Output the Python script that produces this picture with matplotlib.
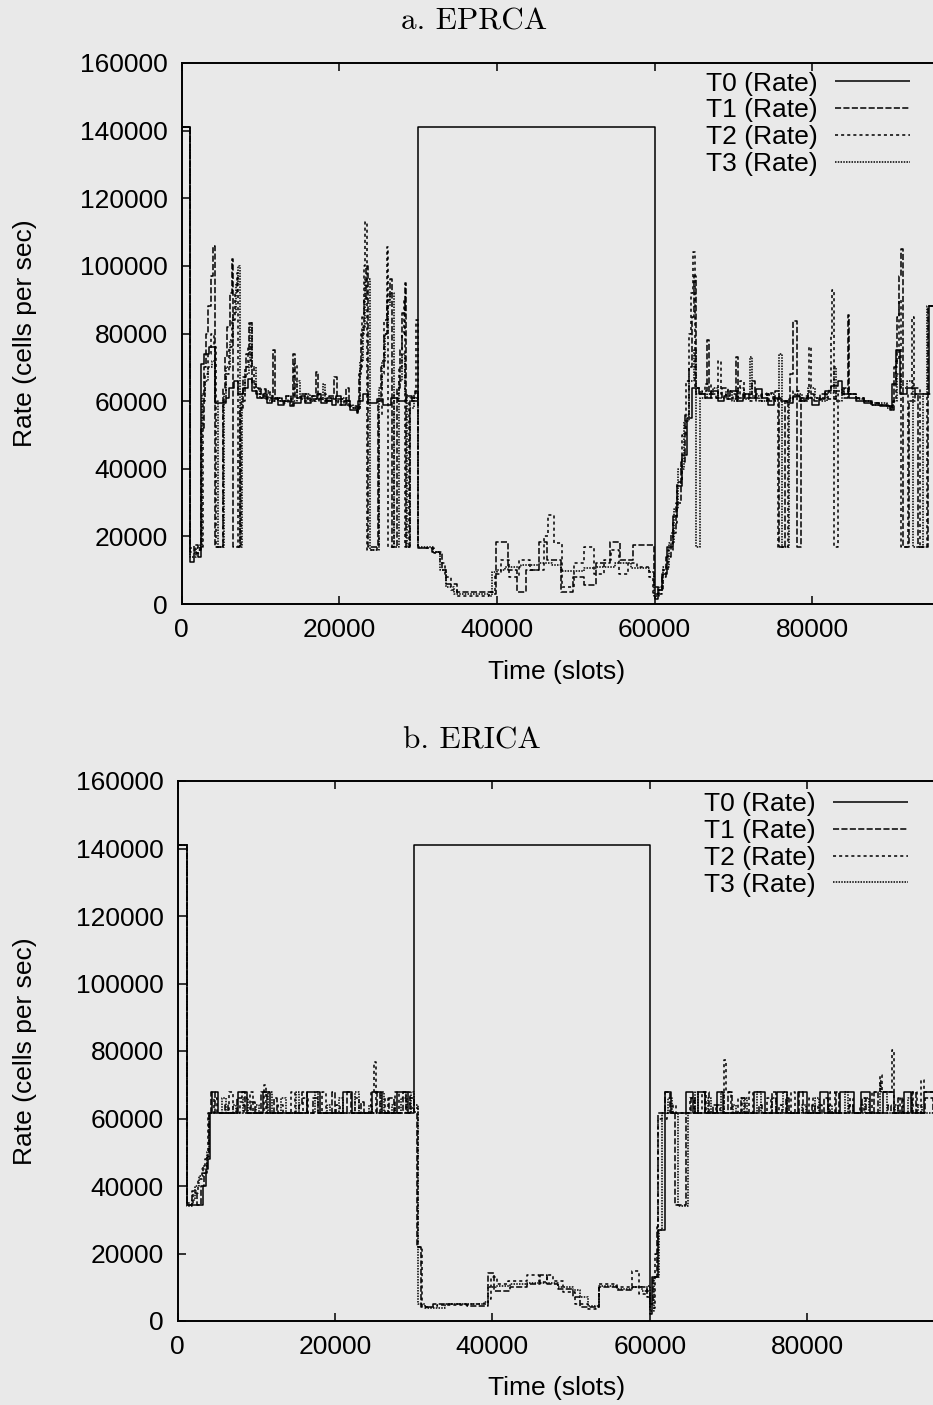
import matplotlib
matplotlib.use("Agg")
import matplotlib.pyplot as plt
from matplotlib.lines import Line2D

# ---------------- data: (time in slots, rate in cells/sec) step points ----------------
labels = ["T0 (Rate)", "T1 (Rate)", "T2 (Rate)", "T3 (Rate)"]
y_ticks = [0, 20000, 40000, 60000, 80000, 100000, 120000, 140000, 160000]
x_ticks = [0, 20000, 40000, 60000, 80000]

# a. EPRCA
eprca_t0 = [(0, 141000), (1100, 12500), (1600, 15000), (2100, 14000), (2450, 71000), (2900, 74000),
            (3500, 76000), (4250, 59500), (5600, 61000), (6000, 64000), (6600, 66000), (7200, 62000),
            (7800, 64000), (8400, 66500), (9000, 63000), (9600, 61000), (10300, 62000), (10900, 59500),
            (11500, 60500), (12300, 59000), (13000, 60000), (13700, 58500), (14300, 59500), (15100, 61500),
            (15600, 59500), (16400, 60500), (17200, 62000), (17700, 59500), (18400, 61000), (19100, 59000),
            (19600, 61500), (20200, 59000), (20900, 60000), (21400, 57500), (22200, 56500), (22400, 60000),
            (23000, 62000), (23700, 59500), (24800, 60500), (25500, 59000), (26600, 61000), (27400, 60000),
            (28500, 61500), (29200, 60000), (30000, 141000), (60000, 1500), (60400, 4000), (61000, 9000),
            (61600, 17000), (62300, 26000), (62900, 35000), (63500, 44000), (64100, 55000), (64700, 64000),
            (65600, 62000), (66400, 61000), (67200, 63000), (68000, 60000), (68800, 61500), (69600, 63000),
            (70400, 60000), (71200, 62000), (72000, 61000), (72800, 63500), (73600, 61000), (74400, 59000),
            (75200, 61000), (76000, 60000), (76800, 59500), (77600, 61500), (78400, 60000), (79200, 61000),
            (80000, 59000), (80800, 60500), (81600, 63000), (82400, 64500), (83200, 66000), (83800, 62000),
            (84600, 61000), (85600, 60000), (86600, 59500), (87600, 59000), (88600, 58500), (89800, 57500),
            (90100, 65000), (90600, 75000), (91100, 62000), (92000, 64000), (93000, 62000), (94500, 62000),
            (94800, 88000), (96000, 88000)]

eprca_t1 = [(0, 141000), (1100, 15500), (1600, 17500), (2100, 16000), (2500, 52000), (2800, 70000),
            (3100, 80000), (3400, 88000), (3700, 97000), (4000, 106000), (4200, 17000), (5200, 64000),
            (5500, 73000), (5800, 82000), (6100, 92000), (6400, 102000), (6550, 17000), (7450, 58000),
            (7800, 67000), (8200, 74000), (8600, 83000), (8900, 65000), (9500, 62000), (10100, 63500),
            (10700, 60500), (11300, 61000), (11600, 75000), (11800, 61000), (12500, 60000), (13200, 61500),
            (13900, 59000), (14100, 74000), (14400, 61000), (15200, 62000), (15900, 60500), (16600, 61500),
            (17000, 68500), (17300, 60500), (18000, 60000), (18700, 61500), (19400, 67000), (19700, 60500),
            (20600, 60000), (20900, 64000), (21200, 58500), (22200, 57500), (22500, 68000), (22800, 80000),
            (23100, 90000), (23400, 100000), (23700, 17000), (24900, 60000), (25300, 70000), (25700, 80000),
            (26100, 90000), (26400, 96000), (26750, 17000), (27300, 64000), (27700, 75000), (28000, 86000),
            (28300, 95000), (28500, 17000), (29000, 61000), (29600, 63000), (30000, 16500), (31800, 15500),
            (33000, 10000), (33600, 6000), (34900, 3500), (39500, 3000), (39900, 18400), (41400, 10000),
            (42500, 3500), (43700, 10000), (45400, 18400), (46300, 13000), (48100, 3500), (49600, 8000),
            (51100, 5600), (52600, 12000), (54300, 18400), (55600, 13000), (57200, 17500), (59400, 17500),
            (59900, 5000), (60400, 3000), (60900, 8000), (61500, 14000), (62100, 21000), (62700, 30000),
            (63300, 42000), (63800, 56000), (64300, 70000), (64700, 85000), (65000, 97000), (65200, 62000),
            (66000, 63000), (66600, 78000), (66900, 62000), (67800, 61000), (68500, 64000), (69300, 60500),
            (70300, 73000), (70600, 61000), (71500, 62000), (72300, 66000), (72700, 61000), (73600, 62000),
            (74500, 60000), (75300, 63000), (75800, 17000), (76500, 60000), (77200, 68000), (77600, 83600),
            (78000, 17000), (78600, 61000), (79500, 62000), (80200, 60000), (81000, 62000), (82000, 60500),
            (83000, 63000), (84000, 61000), (84500, 85500), (84700, 62000), (85500, 61000), (86500, 60000),
            (87500, 59500), (88500, 59000), (89500, 58500), (90100, 57500), (90400, 70000), (90700, 85000),
            (91000, 97000), (91300, 105000), (91500, 17000), (92300, 60000), (93000, 62000), (93400, 17000),
            (94300, 17000), (94700, 88000), (96000, 88000)]

eprca_t2 = [(0, 141000), (1100, 16500), (1700, 15000), (2300, 17000), (2700, 60000), (3000, 68000),
            (3300, 74000), (3700, 80000), (4100, 76000), (4400, 17000), (5300, 60000), (5600, 68000),
            (6000, 76000), (6400, 84000), (6800, 92000), (7000, 98000), (7150, 17000), (7600, 60000),
            (8000, 70000), (8400, 76000), (8800, 70000), (9200, 64000), (9800, 62000), (10400, 61000),
            (11000, 62500), (11500, 60000), (12200, 61000), (12800, 59500), (13500, 60500), (14300, 71000),
            (14700, 61000), (15300, 60000), (16000, 61500), (16800, 60000), (17500, 62000), (18300, 60000),
            (19000, 60500), (19800, 59000), (20600, 60000), (21400, 58000), (22300, 57000), (22600, 70000),
            (22900, 85000), (23100, 100000), (23300, 113000), (23550, 16000), (24300, 16000), (24800, 17000),
            (25100, 56000), (25400, 68000), (25700, 84000), (26000, 105600), (26200, 17000), (27000, 62000),
            (27600, 70000), (28000, 80000), (28200, 90000), (28400, 17000), (28900, 60000), (29500, 62000),
            (29800, 84000), (30000, 16500), (32000, 15000), (32800, 12000), (33400, 8000), (34200, 4000),
            (35000, 2500), (39000, 3500), (39700, 9000), (40500, 13000), (41500, 8000), (42800, 13000),
            (44200, 10000), (46000, 20000), (46500, 26300), (47300, 18000), (48300, 5000), (49800, 12000),
            (51000, 17000), (52300, 9000), (53600, 13000), (54500, 16000), (55500, 9000), (56600, 12000),
            (57800, 11000), (59300, 8000), (59800, 3000), (60600, 4000), (61100, 10000), (61700, 16000),
            (62300, 24000), (62900, 36000), (63500, 50000), (64000, 66000), (64300, 80000), (64600, 92000),
            (64850, 104000), (65100, 64000), (65800, 62000), (66400, 65000), (67200, 61000), (68100, 72000),
            (68400, 62000), (69000, 60500), (70000, 62000), (70800, 66000), (71300, 61000), (72100, 60000),
            (72900, 62000), (73500, 60000), (74300, 62500), (75000, 60500), (75700, 17000), (76600, 17000),
            (76900, 60000), (77500, 63000), (78300, 60000), (79000, 61500), (79600, 76000), (79800, 61000),
            (80800, 61000), (81600, 62500), (82100, 64000), (82400, 80000), (82550, 92800), (82750, 17000),
            (83300, 62000), (84000, 64000), (84700, 62000), (85600, 61000), (86600, 60000), (87600, 59500),
            (88600, 59000), (89600, 58500), (90200, 60000), (90600, 72000), (91000, 90000), (91300, 17000),
            (92200, 62000), (92700, 85000), (92900, 64000), (93700, 17000), (94500, 62000), (96000, 62000)]

eprca_t3 = [(0, 141000), (1100, 14000), (1800, 16500), (2400, 17500), (2600, 62000), (3000, 66000),
            (3400, 70000), (3900, 72000), (4300, 60000), (4600, 17000), (5400, 62000), (5700, 70000),
            (6100, 78000), (6500, 86000), (6900, 95000), (7200, 100000), (7400, 17000), (7700, 62000),
            (8100, 68000), (8500, 72000), (8700, 83000), (9000, 70000), (9400, 64000), (10000, 61000),
            (10600, 63000), (11200, 60000), (11900, 61000), (12500, 60000), (13200, 61500), (13900, 60000),
            (14600, 66000), (15000, 61000), (15600, 62000), (16300, 60000), (17000, 61000), (17900, 65000),
            (18200, 60000), (18900, 61000), (19600, 60000), (20300, 61000), (21000, 59000), (21800, 58000),
            (22300, 58000), (22700, 72000), (23000, 82000), (23300, 96000), (23900, 16000), (24700, 16000),
            (25000, 64000), (25400, 72000), (25800, 80000), (26200, 88000), (26500, 92000), (26900, 17000),
            (27600, 66000), (28000, 74000), (28300, 62000), (28600, 17000), (28950, 58000), (29500, 61000),
            (30000, 16800), (31900, 15500), (32800, 10000), (33500, 5000), (34600, 3000), (39000, 2500),
            (39400, 9500), (40000, 10000), (41000, 11000), (43000, 11500), (45400, 12000), (47000, 11500),
            (48100, 9800), (51000, 10500), (52600, 11000), (55000, 12000), (57000, 10500), (59300, 9500),
            (59900, 2500), (60500, 5000), (61100, 11000), (61800, 18000), (62400, 28000), (63000, 40000),
            (63700, 54000), (64300, 66000), (65000, 75000), (65300, 17000), (65700, 61000), (66600, 62000),
            (67400, 64000), (68000, 61000), (69000, 63000), (69800, 60000), (70600, 64000), (71400, 60500),
            (72100, 73000), (72400, 61500), (73300, 60000), (74200, 62000), (75200, 60000), (75800, 74000),
            (76200, 17000), (77000, 61000), (77800, 62000), (78700, 60000), (79500, 64000), (80300, 61000),
            (81100, 60000), (81900, 62500), (82700, 70000), (83000, 60000), (83800, 64000), (84500, 62000),
            (85500, 60500), (86500, 60000), (87500, 59000), (88500, 59500), (89500, 58000), (90200, 60000),
            (90700, 68000), (91300, 64000), (92000, 66000), (92800, 17000), (93600, 17000), (94000, 62000),
            (94600, 88000), (96000, 88000)]

# b. ERICA
erica_t0 = [(0, 141000), (1200, 34500), (2900, 34500), (3200, 40000), (3600, 45000), (3900, 48000),
            (4100, 61500), (4400, 68000), (5150, 61500), (7700, 68000), (8850, 61500), (10900, 68000),
            (11800, 61500), (16500, 68000), (18100, 61500), (21000, 68000), (22200, 61500), (24700, 68000),
            (26000, 61500), (27900, 68000), (29300, 61500), (30000, 141000), (60000, 2000), (60300, 13000),
            (61000, 27000), (61900, 68000), (62700, 61500), (64600, 68000), (65500, 61500), (66200, 68000),
            (67000, 61500), (68500, 68000), (69300, 61500), (73200, 68000), (74700, 61500), (76200, 68000),
            (77500, 61500), (78800, 68000), (80000, 61500), (81700, 68000), (82600, 61500), (84200, 68000),
            (85900, 61500), (86800, 68000), (88000, 61500), (89600, 68000), (91000, 61500), (92300, 68000),
            (93200, 61500), (94800, 68000), (96000, 68000)]

erica_t1 = [(0, 141000), (1200, 34500), (1800, 38500), (2500, 34500), (3000, 40000), (3400, 44000),
            (3800, 48500), (4000, 61500), (4200, 68000), (4800, 61500), (6000, 64000), (6400, 61500),
            (7600, 66000), (8200, 68000), (8600, 61500), (9400, 65000), (9800, 61500), (10600, 68000),
            (11400, 61500), (12200, 66000), (12600, 61500), (15400, 64000), (15800, 68000), (16400, 61500),
            (17200, 66000), (17800, 61500), (19600, 68000), (20000, 61500), (21500, 68000), (22000, 61500),
            (23300, 65000), (23700, 61500), (25300, 68000), (25700, 61500), (26900, 66000), (27500, 61500),
            (28600, 68000), (29000, 61500), (29600, 66000), (30000, 62000), (30400, 22000), (30900, 4200),
            (32500, 5000), (36800, 4500), (39500, 14200), (40200, 9000), (42300, 10000), (44400, 11000),
            (46000, 13500), (47000, 11000), (48300, 9500), (50300, 7200), (51200, 4200), (52100, 4200),
            (53500, 10200), (55900, 9200), (57800, 10000), (59700, 7000), (60000, 5000), (60400, 13000),
            (60900, 28000), (61100, 61500), (61900, 68000), (62600, 61500), (63200, 34500), (64600, 61500),
            (65300, 66000), (65800, 61500), (67000, 68000), (67500, 61500), (68000, 64000), (68500, 61500),
            (70000, 68000), (70500, 61500), (71600, 66000), (72100, 61500), (73900, 64000), (74300, 61500),
            (75500, 68000), (76000, 61500), (77300, 66000), (77700, 61500), (79000, 68000), (79500, 61500),
            (80600, 64000), (81000, 61500), (82200, 66000), (82700, 61500), (83700, 68000), (84100, 61500),
            (85300, 64000), (85800, 61500), (87000, 66000), (87500, 61500), (88500, 68000), (89000, 61500),
            (90300, 64000), (90700, 61500), (91600, 66000), (92000, 61500), (93300, 68000), (93800, 61500),
            (95000, 66000), (96000, 61500)]

erica_t2 = [(0, 141000), (1200, 35000), (2000, 38000), (2600, 42000), (3100, 45000), (3500, 48000),
            (3900, 61500), (4600, 66000), (5000, 61500), (6500, 68000), (7000, 61500), (8000, 65000),
            (8500, 61500), (9200, 68000), (9600, 61500), (11000, 70000), (11300, 61500), (12800, 64000),
            (13400, 61500), (14400, 68000), (14900, 61500), (16000, 66000), (16600, 61500), (18400, 68000),
            (18900, 61500), (20200, 64000), (20700, 61500), (22500, 66000), (23000, 61500), (24600, 68000),
            (25000, 76700), (25200, 61500), (26400, 66000), (26800, 61500), (27600, 68000), (28200, 61500),
            (29000, 68000), (29500, 63000), (30000, 63000), (30600, 21900), (31100, 4200), (33000, 4800),
            (37000, 5000), (39400, 6500), (39800, 13000), (40600, 11000), (42000, 12000), (44400, 13700),
            (45900, 11500), (47000, 13700), (47700, 12000), (49000, 8500), (50500, 5000), (52200, 3500),
            (53200, 4200), (53600, 11000), (55900, 10000), (57700, 14700), (58600, 8000), (59600, 9000),
            (60000, 4000), (60700, 20000), (61000, 60000), (62200, 61500), (63000, 64000), (63400, 61500),
            (65100, 66000), (65600, 61500), (66700, 68000), (67200, 61500), (68400, 64000), (68900, 61500),
            (69500, 77300), (69700, 68000), (70300, 61500), (71200, 66000), (71700, 61500), (72600, 68000),
            (73100, 61500), (74900, 66000), (75400, 61500), (76400, 64000), (76800, 61500), (77900, 68000),
            (78400, 61500), (80300, 66000), (80700, 61500), (81400, 64000), (81900, 61500), (82900, 68000),
            (83500, 61500), (85400, 66000), (85800, 61500), (86700, 64000), (87200, 61500), (88300, 68000),
            (89200, 73000), (89500, 68000), (90800, 80300), (91000, 61500), (91800, 66000), (92200, 61500),
            (93500, 68000), (94000, 61500), (94500, 71400), (94800, 68000), (96000, 68000)]

erica_t3 = [(0, 141000), (1200, 34000), (1800, 36000), (2200, 40000), (2700, 43000), (3200, 46000),
            (3700, 50000), (4000, 61500), (5600, 66000), (6100, 61500), (7000, 64000), (7400, 61500),
            (8300, 66000), (9000, 61500), (10000, 64000), (10400, 61500), (11500, 68000), (12000, 61500),
            (13200, 66000), (13800, 61500), (15000, 68000), (15500, 61500), (17500, 68000), (17900, 61500),
            (19000, 64000), (19400, 61500), (20500, 66000), (21000, 61500), (22600, 68000), (23000, 61500),
            (24300, 64000), (24700, 61500), (25800, 68000), (26200, 61500), (27200, 64000), (27600, 61500),
            (28400, 66000), (29200, 61500), (29700, 68000), (30000, 64000), (30500, 5000), (31500, 4000),
            (34000, 5000), (39000, 5500), (39500, 10000), (40500, 10500), (42300, 11000), (44400, 11400),
            (47000, 11400), (48300, 10200), (50300, 9200), (51200, 7200), (52100, 4500), (53500, 10500),
            (55900, 9500), (57800, 10200), (59000, 9000), (59700, 10500), (60000, 3000), (60500, 13000),
            (61200, 27000), (61600, 61500), (62300, 66000), (62800, 61500), (63600, 34000), (64900, 61500),
            (65700, 68000), (66200, 61500), (67400, 66000), (67800, 61500), (69000, 68000), (69400, 61500),
            (70600, 64000), (71000, 61500), (72000, 66000), (72400, 61500), (73600, 68000), (74200, 61500),
            (75600, 66000), (76000, 61500), (77000, 68000), (77400, 61500), (79300, 64000), (79800, 61500),
            (81000, 66000), (81500, 61500), (82800, 64000), (83200, 61500), (84800, 68000), (85200, 61500),
            (87400, 66000), (87900, 61500), (89200, 71000), (89400, 68000), (90200, 61500), (91200, 64000),
            (91600, 61500), (92800, 66000), (93300, 61500), (94100, 64000), (94600, 61500), (96000, 61500)]

# ---------------- styling ----------------
paper = "#e9e9e9"
styles = [(0, ()), (0, (4, 1.5)), (0, (2, 2)), (0, (1, 0.8))]
plt.rcParams["font.family"] = ["Liberation Sans", "DejaVu Sans"]


def draw_panel(fig, ax, series, legend_anchor):
    for pts, ls, lab in zip(series, styles, labels):
        t = [p[0] for p in pts]
        r = [p[1] for p in pts]
        ax.plot(t, r, color="black", lw=1.1, linestyle=ls, drawstyle="steps-post", label=lab)
    ax.set_xlim(0, 100000)
    ax.set_ylim(0, 160000)
    ax.set_facecolor(paper)
    ax.set_xticks(x_ticks)
    ax.set_xticklabels([str(v) for v in x_ticks])
    ax.set_yticks(y_ticks)
    ax.set_yticklabels([str(v) for v in y_ticks])
    ax.tick_params(direction="in", top=True, right=True, length=6, width=1.1,
                   labelsize=19, pad=10)
    for s in ax.spines.values():
        s.set_linewidth(1.4)
    ax.set_xlabel("Time (slots)", fontsize=19)
    ax.xaxis.label.set_va("center")
    ax.set_ylabel("Rate (cells per sec)", fontsize=19)
    ax.yaxis.label.set_va("center")
    handles = [Line2D([], [], color="black", lw=1.1, linestyle=ls) for ls in styles]
    fig.legend(handles, labels, loc="upper right", bbox_to_anchor=legend_anchor,
               bbox_transform=fig.transFigure, frameon=False, markerfirst=False,
               fontsize=19, handlelength=2.85, handletextpad=0.65, labelspacing=0.11,
               borderpad=0, borderaxespad=0)


fig = plt.figure(figsize=(9.33, 14.05), dpi=100, facecolor=paper)
W, H = 933.0, 1405.0

ax1 = fig.add_axes([181.5 / W, (H - 604) / H, 788.5 / W, 541 / H])
draw_panel(fig, ax1, [eprca_t0, eprca_t1, eprca_t2, eprca_t3], (910 / W, 1 - 71.5 / H))
ax1.xaxis.set_label_coords((557 - 181.5) / 788.5, -(672 - 604) / 541)
ax1.yaxis.set_label_coords((25 - 181.5) / 788.5, 0.5)

ax2 = fig.add_axes([177.5 / W, (H - 1321) / H, 787 / W, 540 / H])
draw_panel(fig, ax2, [erica_t0, erica_t1, erica_t2, erica_t3], (908 / W, 1 - 792 / H))
ax2.xaxis.set_label_coords((557 - 177.5) / 787, -(1388 - 1321) / 540)
ax2.yaxis.set_label_coords((25 - 177.5) / 787, 0.5)

fig.text(474 / W, 1 - 22 / H, "a. EPRCA", family="cmr10", fontsize=22.5, ha="center", va="center")
fig.text(472 / W, 1 - 741 / H, "b. ERICA", family="cmr10", fontsize=22.5, ha="center", va="center")

fig.savefig("out.png", dpi=100, facecolor=paper)
